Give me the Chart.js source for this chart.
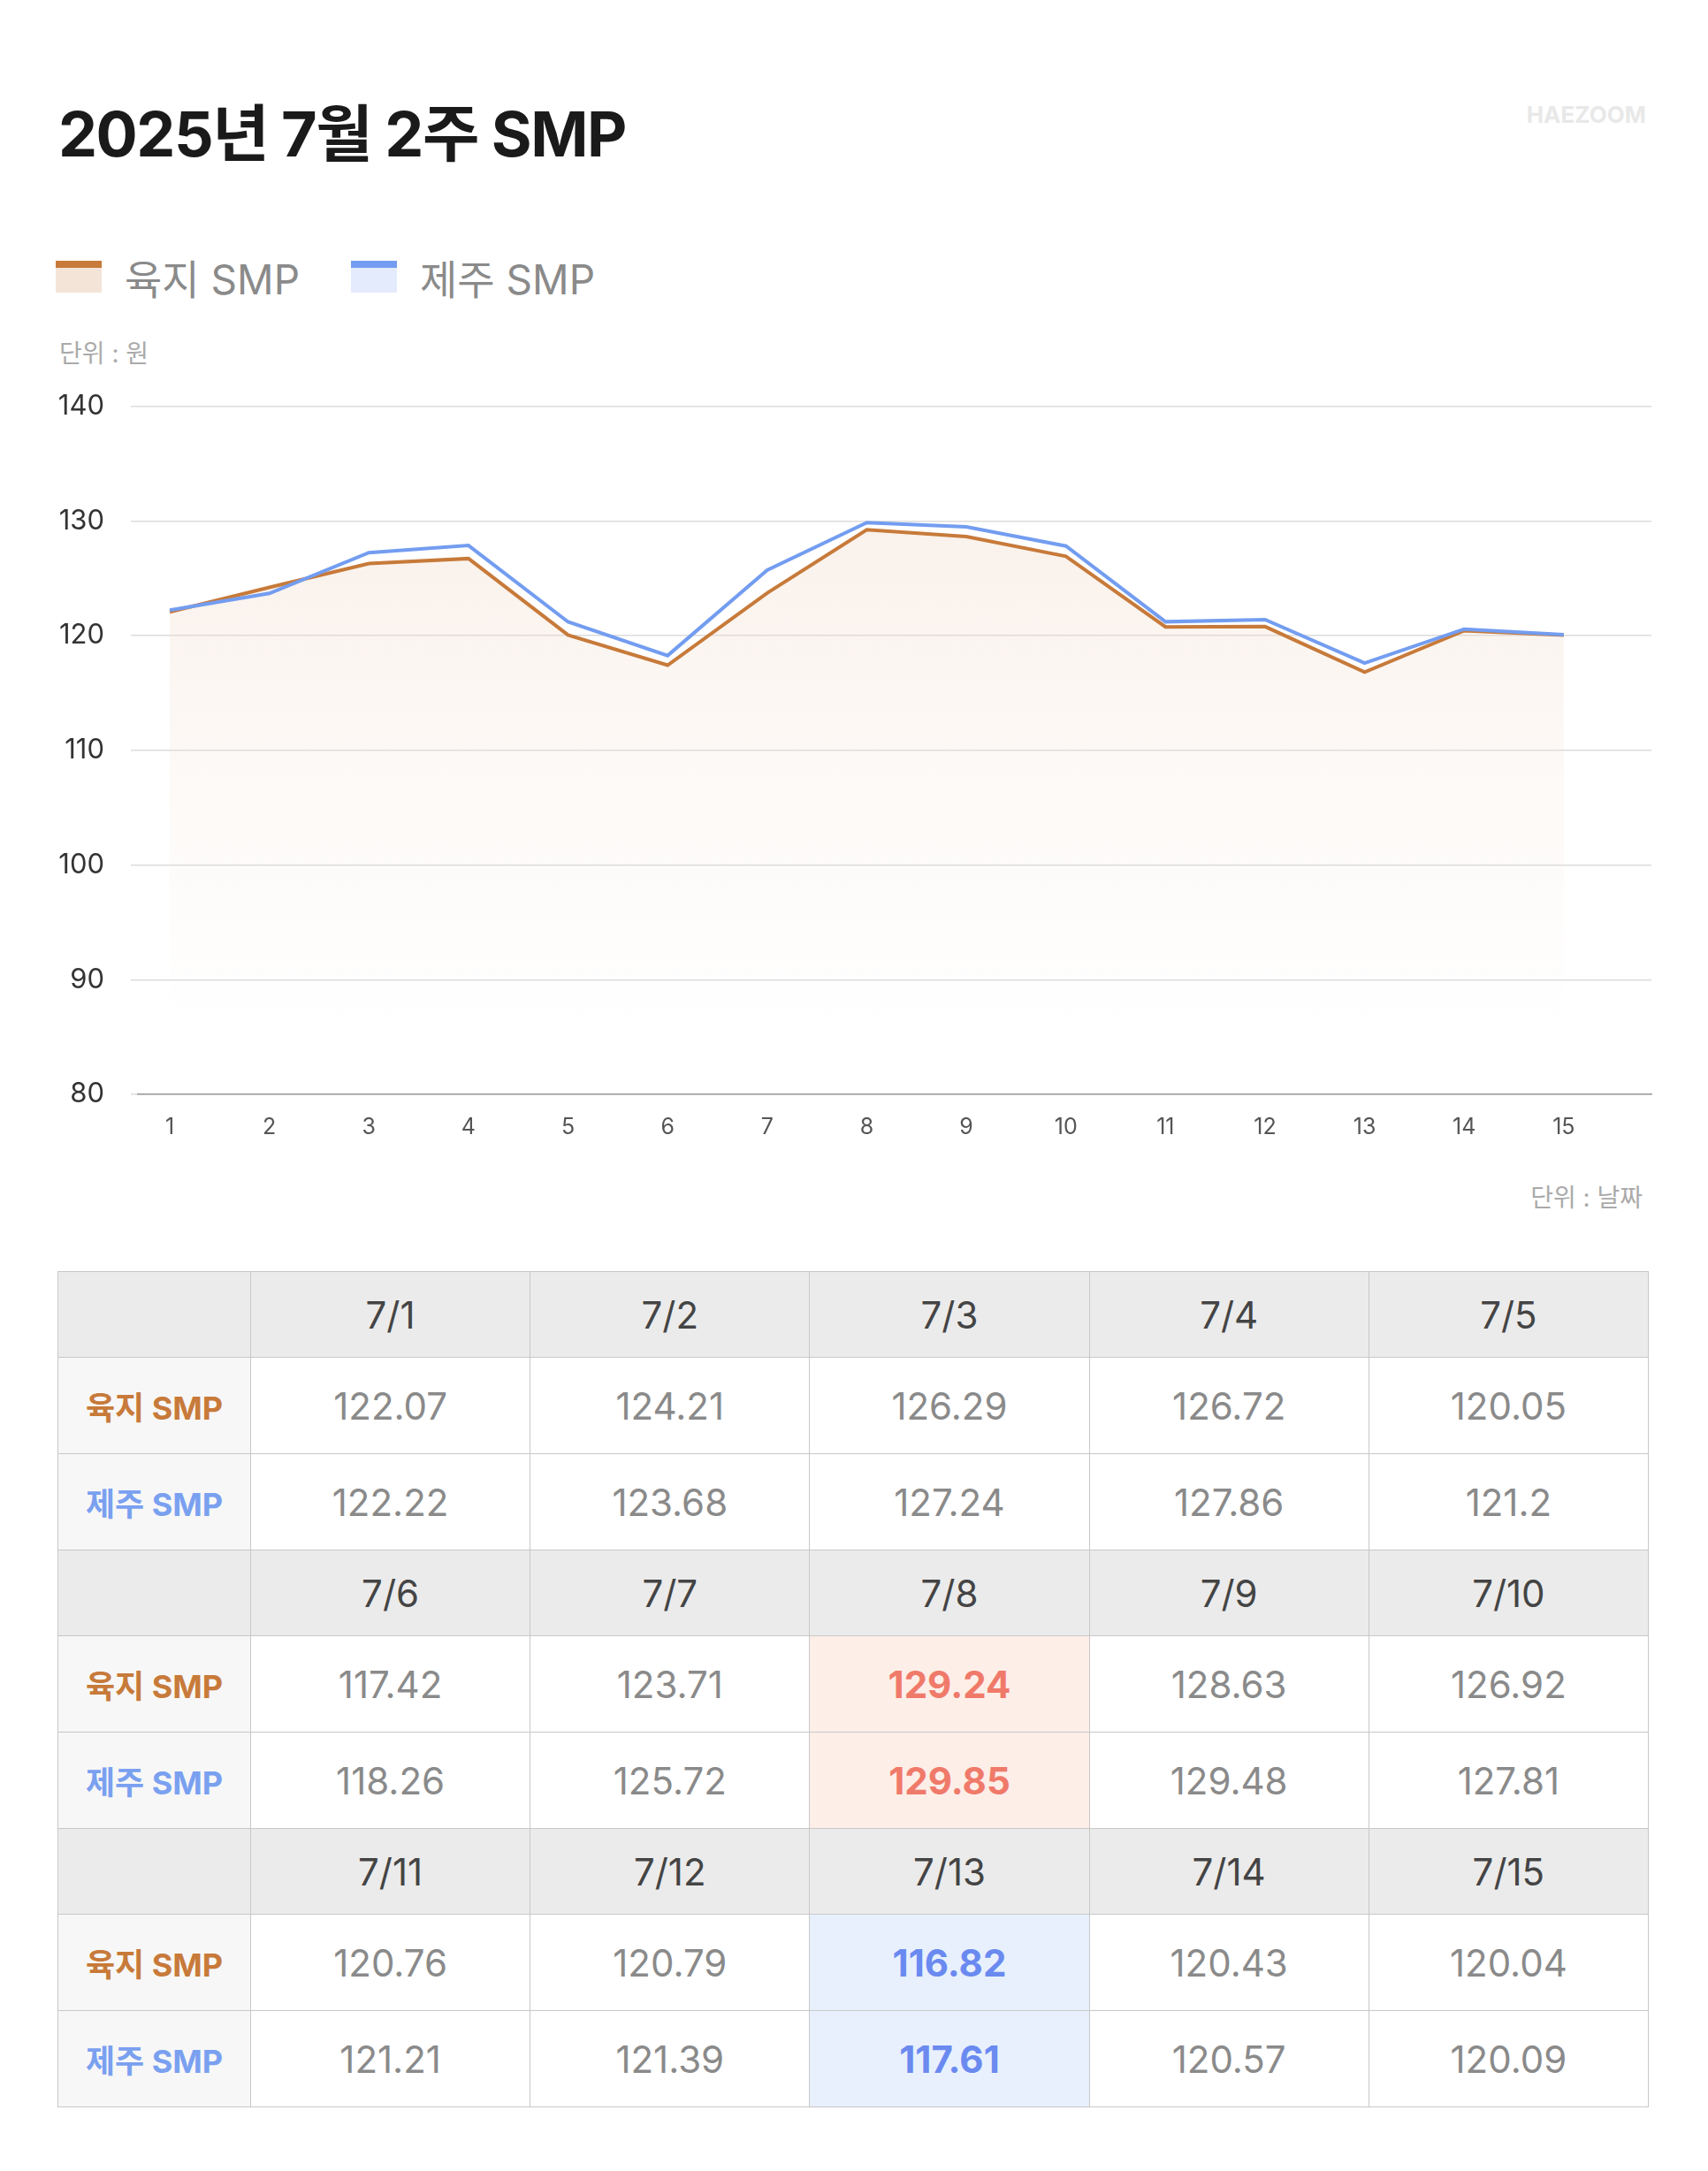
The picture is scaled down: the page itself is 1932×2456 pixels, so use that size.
<!DOCTYPE html>
<html><head><meta charset="utf-8">
<script src="https://cdn.jsdelivr.net/npm/chart.js@4"></script>
<style>
body{margin:0;background:#fff;font-family:Inter,"Noto Sans CJK KR","Noto Sans",sans-serif;width:1932px;height:2456px;position:relative;overflow:hidden}
#title{position:absolute;left:66px;top:96px;font-size:70px;font-weight:700;color:#1a1a1a;letter-spacing:-1.5px}
#brand{position:absolute;right:70px;top:114px;font-size:26px;font-weight:700;color:#e8e8e8;font-family:Inter,sans-serif}
.lg{position:absolute;top:280px;font-size:46px;color:#8a8a8a;display:flex;align-items:center}
.sw{width:52px;height:36px;margin-right:26px}
.unit{position:absolute;font-size:28px;color:#aaa}
#wrap{position:absolute;left:40px;top:411px;width:1838px;height:893px}
table{position:absolute;left:65px;top:1438px;width:1800px;border-collapse:collapse;table-layout:fixed}
td{border:1.5px solid #c8c8c8;text-align:center;font-size:42px;color:#8a8a8a;height:106px}
tr.h td{background:#ebebeb;color:#444;height:94px}
td.r{background:#f7f7f7;font-size:36px;font-weight:700}
td.r.a{color:#c77a3a} td.r.b{color:#7aa0f0}
td.hi{background:#fdeee8;color:#f07a6a;font-weight:700}
td.lo{background:#e8f0fd;color:#6a8af0;font-weight:700}
</style></head><body>
<div id="title">2025년 7월 2주 SMP</div>
<div id="brand">HAEZOOM</div>
<div class="lg" style="left:63px"><div class="sw" style="background:#f4e4d8;border-top:8px solid #c77a3a;height:28px"></div>육지 SMP</div>
<div class="lg" style="left:397px"><div class="sw" style="background:#e3ebfc;border-top:8px solid #739df0;height:28px"></div>제주 SMP</div>
<div class="unit" style="left:67px;top:378px">단위 : 원</div>
<div id="wrap"><canvas id="c"></canvas></div>
<div class="unit" style="right:74px;top:1333px">단위 : 날짜</div>
<table id="t"></table>
<script>
const days = [1,2,3,4,5,6,7,8,9,10,11,12,13,14,15];
const dateLabels = ['7/1','7/2','7/3','7/4','7/5','7/6','7/7','7/8','7/9','7/10','7/11','7/12','7/13','7/14','7/15'];
const mainland = [122.07,124.21,126.29,126.72,120.05,117.42,123.71,129.24,128.63,126.92,120.76,120.79,116.82,120.43,120.04];
const jeju = [122.22,123.68,127.24,127.86,121.2,118.26,125.72,129.85,129.48,127.81,121.21,121.39,117.61,120.57,120.09];
const yTicks = [80,90,100,110,120,130,140];

const ctx = document.getElementById('c');
new Chart(ctx, {
  type: 'line',
  data: {
    datasets: [
      { label: '제주 SMP', data: days.map((d,i)=>({x:d,y:jeju[i]})), borderColor:'#739df0', borderWidth:4, pointRadius:0, tension:0, fill:false },
      { label: '육지 SMP', data: days.map((d,i)=>({x:d,y:mainland[i]})), borderColor:'#c77a3a', borderWidth:4, pointRadius:0, tension:0,
        fill:'origin',
        backgroundColor: c => {
          const a = c.chart.chartArea; if(!a) return 'rgba(0,0,0,0)';
          const g = c.chart.ctx.createLinearGradient(0,a.top,0,a.bottom);
          g.addColorStop(0,'rgba(240,215,195,0.45)'); g.addColorStop(0.92,'rgba(245,230,220,0)');
          return g;
        } }
    ]
  },
  options: {
    responsive:true, maintainAspectRatio:false, animation:false,
    layout:{padding:{top:20,right:10}},
    plugins:{legend:{display:false},tooltip:{enabled:false}},
    scales:{
      x:{ type:'linear', min:0.68, max:15.88,
        afterBuildTicks: a => { a.ticks = days.map(v=>({value:v})); },
        grid:{display:false}, border:{color:'#999',width:1.5},
        ticks:{color:'#555',font:{size:25,family:'Inter'},padding:14, callback:v=>v} },
      y:{ min:80, max:140,
        afterBuildTicks: a => { a.ticks = yTicks.map(v=>({value:v})); },
        afterFit: a => { a.width = 116; },
        grid:{color:'#dcdcdc',lineWidth:1.5}, border:{display:false},
        ticks:{color:'#333',font:{size:31,family:'Inter'},padding:30} }
    }
  }
});

const t = document.getElementById('t');
let html = '<colgroup><col style="width:218px"><col><col><col><col><col></colgroup>';
for (let r=0;r<3;r++){
  const idx=[0,1,2,3,4].map(k=>r*5+k);
  html += '<tr class="h"><td></td>'+idx.map(i=>'<td>'+dateLabels[i]+'</td>').join('')+'</tr>';
  const cls = i => i===7?' class="hi"':(i===12?' class="lo"':'');
  html += '<tr><td class="r a">육지 SMP</td>'+idx.map(i=>'<td'+cls(i)+'>'+mainland[i]+'</td>').join('')+'</tr>';
  html += '<tr><td class="r b">제주 SMP</td>'+idx.map(i=>'<td'+cls(i)+'>'+jeju[i]+'</td>').join('')+'</tr>';
}
t.innerHTML = html;
</script>
</body></html>
